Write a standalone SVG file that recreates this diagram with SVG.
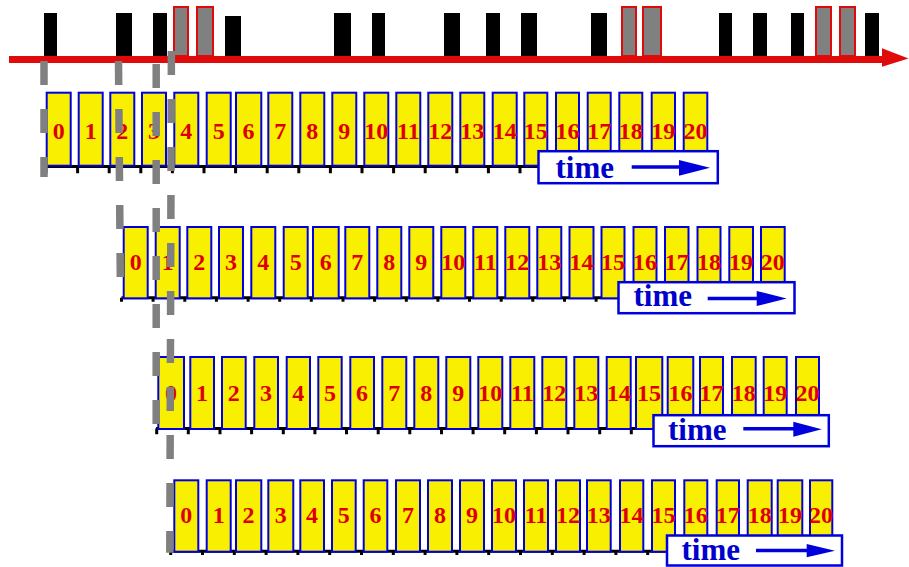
<svg xmlns="http://www.w3.org/2000/svg" width="909" height="567" viewBox="0 0 909 567">
<defs>
<style>
.bk{fill:#000}
.gr{fill:#808080;stroke:#e00a0a;stroke-width:2}
.box rect{fill:#f8f000;stroke:#0000dd;stroke-width:2}
.box text{font-family:"Liberation Serif","Times New Roman",serif;font-weight:bold;font-size:24px;fill:#dd0000;text-anchor:middle}
.axis{stroke:#000;stroke-width:3;fill:none}
.tb rect{fill:#fff;stroke:#0000dd;stroke-width:2.5}
.tb text{font-family:"Liberation Serif","Times New Roman",serif;font-weight:bold;font-size:31px;fill:#0000cc}
.tb line{stroke:#0000dd;stroke-width:3.5}
.tb polygon{fill:#0000dd}
.dash{stroke:#808080;stroke-width:7.5;stroke-dasharray:24 24;fill:none}
</style>
</defs>
<rect width="909" height="567" fill="#fff"/>
<g id="timeline">
<rect class="bk" x="44" y="13" width="13" height="43"/>
<rect class="bk" x="116" y="13" width="16" height="43"/>
<rect class="bk" x="153" y="13" width="14" height="43"/>
<rect class="gr" x="174" y="7" width="14" height="49"/>
<rect class="gr" x="197" y="7" width="16" height="49"/>
<rect class="bk" x="225" y="16" width="16" height="40"/>
<rect class="bk" x="334" y="13" width="17" height="43"/>
<rect class="bk" x="372" y="13" width="13" height="43"/>
<rect class="bk" x="444" y="13" width="16" height="43"/>
<rect class="bk" x="486" y="13" width="14" height="43"/>
<rect class="bk" x="521" y="13" width="16" height="43"/>
<rect class="bk" x="591" y="13" width="16" height="43"/>
<rect class="gr" x="622" y="7" width="14" height="49"/>
<rect class="gr" x="643" y="7" width="18" height="49"/>
<rect class="bk" x="719" y="13" width="13" height="43"/>
<rect class="bk" x="753" y="13" width="14" height="43"/>
<rect class="bk" x="791" y="13" width="13" height="43"/>
<rect class="gr" x="816" y="7" width="15" height="49"/>
<rect class="gr" x="840" y="7" width="15" height="49"/>
<rect class="bk" x="865" y="13" width="14" height="43"/>
<line x1="9" y1="59.6" x2="885" y2="59.6" stroke="#e00a0a" stroke-width="7"/>
<polygon points="882,48.3 908.5,58.5 882,66.7" fill="#e00a0a"/>
</g>
<g id="axes">
<path class="axis" d="M45.7 166.5H545M121.5 297.8H625M156 428.5H660M170 551.3H675"/>
<path class="axis" d="M46 166.5v6.8M77.6 166.5v6.8M109.2 166.5v6.8M140.8 166.5v6.8M172.4 166.5v6.8M204 166.5v6.8M235.6 166.5v6.8M267.2 166.5v6.8M298.8 166.5v6.8M330.4 166.5v6.8M362 166.5v6.8M393.6 166.5v6.8M425.2 166.5v6.8M456.8 166.5v6.8M488.4 166.5v6.8M520 166.5v6.8"/>
<path class="axis" d="M121.5 297.8v3.9M153.1 297.8v3.9M184.8 297.8v3.9M216.4 297.8v3.9M248.1 297.8v3.9M279.7 297.8v3.9M311.3 297.8v3.9M343 297.8v3.9M374.6 297.8v3.9M406.3 297.8v3.9M437.9 297.8v3.9M469.5 297.8v3.9M501.2 297.8v3.9M532.8 297.8v3.9M564.5 297.8v3.9M596.1 297.8v3.9"/>
<path class="axis" d="M156.7 428.5v5.8M188.3 428.5v5.8M220 428.5v5.8M251.6 428.5v5.8M283.3 428.5v5.8M314.9 428.5v5.8M346.5 428.5v5.8M378.2 428.5v5.8M409.8 428.5v5.8M441.5 428.5v5.8M473.1 428.5v5.8M504.7 428.5v5.8M536.4 428.5v5.8M568 428.5v5.8M599.7 428.5v5.8M631.3 428.5v5.8"/>
<path class="axis" d="M170.7 551.3v3.7M202.5 551.3v3.7M234.3 551.3v3.7M266.1 551.3v3.7M297.9 551.3v3.7M329.7 551.3v3.7M361.5 551.3v3.7M393.3 551.3v3.7M425.1 551.3v3.7M456.9 551.3v3.7M488.7 551.3v3.7M520.5 551.3v3.7M552.3 551.3v3.7M584.1 551.3v3.7M615.9 551.3v3.7M647.7 551.3v3.7"/>
</g>
<g id="row1">
<g id="r1b0" class="box"><rect x="46.7" y="92.7" width="24" height="73"/><text x="58.7" y="139">0</text></g>
<g id="r1b1" class="box"><rect x="78.7" y="92.7" width="24" height="73"/><text x="90.7" y="139">1</text></g>
<g id="r1b2" class="box"><rect x="110.3" y="92.7" width="24" height="73"/><text x="122.3" y="139">2</text></g>
<g id="r1b3" class="box"><rect x="142" y="92.7" width="24" height="73"/><text x="154" y="139">3</text></g>
<g id="r1b4" class="box"><rect x="174.3" y="92.7" width="24" height="73"/><text x="186.3" y="139">4</text></g>
<g id="r1b5" class="box"><rect x="206.7" y="92.7" width="24" height="73"/><text x="218.7" y="139">5</text></g>
<g id="r1b6" class="box"><rect x="236" y="92.7" width="25.3" height="73"/><text x="248.6" y="139">6</text></g>
<g id="r1b7" class="box"><rect x="268.3" y="92.7" width="24" height="73"/><text x="280.3" y="139">7</text></g>
<g id="r1b8" class="box"><rect x="300.3" y="92.7" width="24" height="73"/><text x="312.3" y="139">8</text></g>
<g id="r1b9" class="box"><rect x="332.3" y="92.7" width="24" height="73"/><text x="344.3" y="139">9</text></g>
<g id="r1b10" class="box"><rect x="364.3" y="92.7" width="24" height="73"/><text x="376.3" y="139">10</text></g>
<g id="r1b11" class="box"><rect x="396.3" y="92.7" width="24" height="73"/><text x="408.3" y="139">11</text></g>
<g id="r1b12" class="box"><rect x="428.3" y="92.7" width="24" height="73"/><text x="440.3" y="139">12</text></g>
<g id="r1b13" class="box"><rect x="460.3" y="92.7" width="24" height="73"/><text x="472.3" y="139">13</text></g>
<g id="r1b14" class="box"><rect x="492.7" y="92.7" width="24" height="73"/><text x="504.7" y="139">14</text></g>
<g id="r1b15" class="box"><rect x="524.3" y="92.7" width="23" height="73"/><text x="535.8" y="139">15</text></g>
<g id="r1b16" class="box"><rect x="556" y="92.7" width="23" height="73"/><text x="567.5" y="139">16</text></g>
<g id="r1b17" class="box"><rect x="587.7" y="92.7" width="23" height="73"/><text x="599.2" y="139">17</text></g>
<g id="r1b18" class="box"><rect x="619.3" y="92.7" width="23" height="73"/><text x="630.8" y="139">18</text></g>
<g id="r1b19" class="box"><rect x="651.7" y="92.7" width="23.3" height="73"/><text x="663.3" y="139">19</text></g>
<g id="r1b20" class="box"><rect x="683.7" y="92.7" width="23.6" height="73"/><text x="695.5" y="139">20</text></g>
</g>
<g id="row2">
<g id="r2b0" class="box"><rect x="123.7" y="227" width="24" height="71.3"/><text x="135.7" y="269.5">0</text></g>
<g id="r2b1" class="box"><rect x="155.7" y="227" width="24" height="71.3"/><text x="167.7" y="269.5">1</text></g>
<g id="r2b2" class="box"><rect x="187.3" y="227" width="24" height="71.3"/><text x="199.3" y="269.5">2</text></g>
<g id="r2b3" class="box"><rect x="219" y="227" width="24" height="71.3"/><text x="231" y="269.5">3</text></g>
<g id="r2b4" class="box"><rect x="251.3" y="227" width="24" height="71.3"/><text x="263.3" y="269.5">4</text></g>
<g id="r2b5" class="box"><rect x="283.7" y="227" width="24" height="71.3"/><text x="295.7" y="269.5">5</text></g>
<g id="r2b6" class="box"><rect x="313" y="227" width="25.7" height="71.3"/><text x="325.8" y="269.5">6</text></g>
<g id="r2b7" class="box"><rect x="345.3" y="227" width="24" height="71.3"/><text x="357.3" y="269.5">7</text></g>
<g id="r2b8" class="box"><rect x="377.3" y="227" width="24" height="71.3"/><text x="389.3" y="269.5">8</text></g>
<g id="r2b9" class="box"><rect x="409.3" y="227" width="24" height="71.3"/><text x="421.3" y="269.5">9</text></g>
<g id="r2b10" class="box"><rect x="441.3" y="227" width="24" height="71.3"/><text x="453.3" y="269.5">10</text></g>
<g id="r2b11" class="box"><rect x="473.3" y="227" width="24" height="71.3"/><text x="485.3" y="269.5">11</text></g>
<g id="r2b12" class="box"><rect x="505.3" y="227" width="24" height="71.3"/><text x="517.3" y="269.5">12</text></g>
<g id="r2b13" class="box"><rect x="537.3" y="227" width="24" height="71.3"/><text x="549.3" y="269.5">13</text></g>
<g id="r2b14" class="box"><rect x="569.5" y="227" width="24" height="71.3"/><text x="581.5" y="269.5">14</text></g>
<g id="r2b15" class="box"><rect x="601.5" y="227" width="23" height="71.3"/><text x="613" y="269.5">15</text></g>
<g id="r2b16" class="box"><rect x="633.5" y="227" width="23" height="71.3"/><text x="645" y="269.5">16</text></g>
<g id="r2b17" class="box"><rect x="665" y="227" width="23.5" height="71.3"/><text x="676.7" y="269.5">17</text></g>
<g id="r2b18" class="box"><rect x="697.5" y="227" width="23" height="71.3"/><text x="709" y="269.5">18</text></g>
<g id="r2b19" class="box"><rect x="729.3" y="227" width="23.7" height="71.3"/><text x="741.1" y="269.5">19</text></g>
<g id="r2b20" class="box"><rect x="761" y="227" width="23.7" height="71.3"/><text x="772.8" y="269.5">20</text></g>
</g>
<g id="row3">
<g id="r3b0" class="box"><rect x="158.3" y="357" width="25.7" height="72"/><text x="171.1" y="400.5">0</text></g>
<g id="r3b1" class="box"><rect x="190.3" y="357" width="23.7" height="72"/><text x="202.1" y="400.5">1</text></g>
<g id="r3b2" class="box"><rect x="222" y="357" width="23.7" height="72"/><text x="233.8" y="400.5">2</text></g>
<g id="r3b3" class="box"><rect x="254.3" y="357" width="23.7" height="72"/><text x="266.1" y="400.5">3</text></g>
<g id="r3b4" class="box"><rect x="286.7" y="357" width="23.3" height="72"/><text x="298.3" y="400.5">4</text></g>
<g id="r3b5" class="box"><rect x="318.3" y="357" width="23.4" height="72"/><text x="330" y="400.5">5</text></g>
<g id="r3b6" class="box"><rect x="350.3" y="357" width="23.7" height="72"/><text x="362.1" y="400.5">6</text></g>
<g id="r3b7" class="box"><rect x="382.3" y="357" width="24" height="72"/><text x="394.3" y="400.5">7</text></g>
<g id="r3b8" class="box"><rect x="414.3" y="357" width="24" height="72"/><text x="426.3" y="400.5">8</text></g>
<g id="r3b9" class="box"><rect x="446.3" y="357" width="24" height="72"/><text x="458.3" y="400.5">9</text></g>
<g id="r3b10" class="box"><rect x="478.3" y="357" width="24" height="72"/><text x="490.3" y="400.5">10</text></g>
<g id="r3b11" class="box"><rect x="510.3" y="357" width="24" height="72"/><text x="522.3" y="400.5">11</text></g>
<g id="r3b12" class="box"><rect x="542.3" y="357" width="24" height="72"/><text x="554.3" y="400.5">12</text></g>
<g id="r3b13" class="box"><rect x="574.3" y="357" width="24" height="72"/><text x="586.3" y="400.5">13</text></g>
<g id="r3b14" class="box"><rect x="606.7" y="357" width="24" height="72"/><text x="618.7" y="400.5">14</text></g>
<g id="r3b15" class="box"><rect x="636" y="357" width="26.3" height="72"/><text x="649.1" y="400.5">15</text></g>
<g id="r3b16" class="box"><rect x="667.7" y="357" width="25.6" height="72"/><text x="680.5" y="400.5">16</text></g>
<g id="r3b17" class="box"><rect x="700" y="357" width="23" height="72"/><text x="711.5" y="400.5">17</text></g>
<g id="r3b18" class="box"><rect x="732" y="357" width="23.7" height="72"/><text x="743.8" y="400.5">18</text></g>
<g id="r3b19" class="box"><rect x="763.7" y="357" width="23" height="72"/><text x="775.2" y="400.5">19</text></g>
<g id="r3b20" class="box"><rect x="796" y="357" width="23" height="72"/><text x="807.5" y="400.5">20</text></g>
</g>
<g id="row4">
<g id="r4b0" class="box"><rect x="174.3" y="480.3" width="24" height="71.4"/><text x="186.3" y="523">0</text></g>
<g id="r4b1" class="box"><rect x="206.7" y="480.3" width="24" height="71.4"/><text x="218.7" y="523">1</text></g>
<g id="r4b2" class="box"><rect x="236" y="480.3" width="25.3" height="71.4"/><text x="248.6" y="523">2</text></g>
<g id="r4b3" class="box"><rect x="268.3" y="480.3" width="25" height="71.4"/><text x="280.8" y="523">3</text></g>
<g id="r4b4" class="box"><rect x="300.3" y="480.3" width="23.7" height="71.4"/><text x="312.1" y="523">4</text></g>
<g id="r4b5" class="box"><rect x="332" y="480.3" width="23.7" height="71.4"/><text x="343.8" y="523">5</text></g>
<g id="r4b6" class="box"><rect x="363.7" y="480.3" width="23.6" height="71.4"/><text x="375.5" y="523">6</text></g>
<g id="r4b7" class="box"><rect x="396" y="480.3" width="24" height="71.4"/><text x="408" y="523">7</text></g>
<g id="r4b8" class="box"><rect x="428" y="480.3" width="24" height="71.4"/><text x="440" y="523">8</text></g>
<g id="r4b9" class="box"><rect x="460" y="480.3" width="24" height="71.4"/><text x="472" y="523">9</text></g>
<g id="r4b10" class="box"><rect x="492" y="480.3" width="24" height="71.4"/><text x="504" y="523">10</text></g>
<g id="r4b11" class="box"><rect x="524" y="480.3" width="24" height="71.4"/><text x="536" y="523">11</text></g>
<g id="r4b12" class="box"><rect x="556" y="480.3" width="24" height="71.4"/><text x="568" y="523">12</text></g>
<g id="r4b13" class="box"><rect x="587" y="480.3" width="23.7" height="71.4"/><text x="598.8" y="523">13</text></g>
<g id="r4b14" class="box"><rect x="620" y="480.3" width="23.3" height="71.4"/><text x="631.6" y="523">14</text></g>
<g id="r4b15" class="box"><rect x="652" y="480.3" width="23" height="71.4"/><text x="663.5" y="523">15</text></g>
<g id="r4b16" class="box"><rect x="684.3" y="480.3" width="23" height="71.4"/><text x="695.8" y="523">16</text></g>
<g id="r4b17" class="box"><rect x="716.7" y="480.3" width="22.3" height="71.4"/><text x="727.8" y="523">17</text></g>
<g id="r4b18" class="box"><rect x="747.7" y="480.3" width="24" height="71.4"/><text x="759.7" y="523">18</text></g>
<g id="r4b19" class="box"><rect x="777.7" y="480.3" width="24.6" height="71.4"/><text x="790" y="523">19</text></g>
<g id="r4b20" class="box"><rect x="810" y="480.3" width="22.3" height="71.4"/><text x="821.1" y="523">20</text></g>
</g>
<g id="time1" class="tb"><rect x="538.5" y="151.2" width="179.3" height="32"/><text x="555.5" y="177.7">time</text><line x1="631.7" y1="167" x2="681" y2="167"/><polygon points="679,160 710,167.8 679,175.7"/></g>
<g id="time2" class="tb"><rect x="618.5" y="282.2" width="176" height="31"/><text x="633.5" y="306">time</text><line x1="707.7" y1="298.5" x2="758" y2="298.5"/><polygon points="756.7,291 786.7,298.5 756.7,306"/></g>
<g id="time3" class="tb"><rect x="653.5" y="415.2" width="175.3" height="31"/><text x="668" y="440">time</text><line x1="743.3" y1="428.8" x2="795" y2="428.8"/><polygon points="793.3,421.7 821.7,429.2 793.3,436.7"/></g>
<g id="time4" class="tb"><rect x="667" y="535.5" width="175" height="30"/><text x="681.5" y="560">time</text><line x1="756" y1="550.5" x2="808" y2="550.5"/><polygon points="806.7,544 835,550.7 806.7,557.3"/></g>
<g id="connectors">
<line class="dash" x1="44" y1="61" x2="44" y2="177"/>
<line class="dash" x1="118.5" y1="61" x2="120.3" y2="277"/>
<line class="dash" x1="156.2" y1="64" x2="156.2" y2="424"/>
<line class="dash" x1="171.4" y1="51" x2="169.8" y2="552.7"/>
</g>
</svg>
